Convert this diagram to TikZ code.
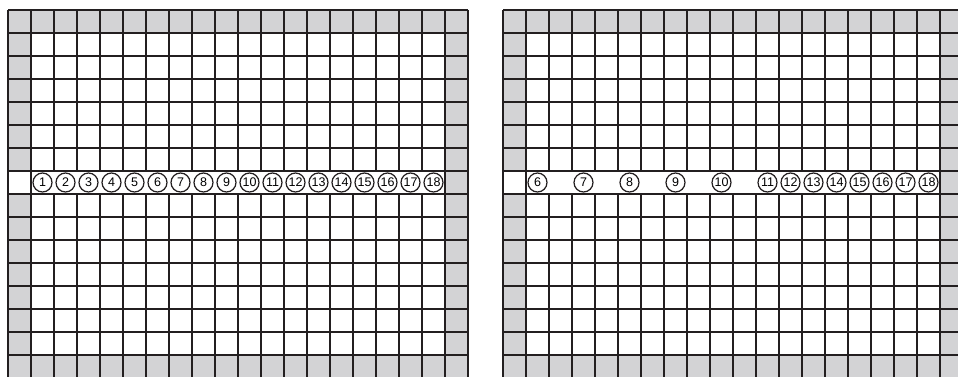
\documentclass[tikz,border=0pt]{standalone}
\usepackage{fontspec}
\setmainfont{Liberation Sans}
\definecolor{cellgray}{RGB}{211,211,213}
\definecolor{gridline}{RGB}{35,31,32}
\begin{document}
\begin{tikzpicture}[x=1pt,y=-1pt,
  gridln/.style={draw=gridline,line width=1.7pt},
  num/.style={circle,draw=gridline,line width=1.2pt,minimum size=19pt,inner sep=0pt,
    font=\fontsize{12.5}{13}\selectfont}]
\useasboundingbox (0,0) rectangle (958,376);
\clip (0,0) rectangle (958,376);
\foreach \ox/\g in {8/L,503/R}{
  \begin{scope}[shift={(\ox,10)},x=23pt,y=-23pt]
    \fill[cellgray] (0,0) rectangle (20,1);
    \fill[cellgray] (0,15) rectangle (20,16);
    \fill[cellgray] (0,1) rectangle (1,7);
    \fill[cellgray] (0,8) rectangle (1,15);
    \fill[cellgray] (19,1) rectangle (20,15);
    \foreach \r in {0,...,16} \draw[gridln] (0,\r) -- (20,\r);
    \foreach \c in {0,1,19,20} \draw[gridln] (\c,0) -- (\c,16);
    \foreach \c in {2,...,18} {
      \draw[gridln] (\c,0) -- (\c,7);
      \draw[gridln] (\c,8) -- (\c,16);
    }
  \end{scope}
}
\begin{scope}[shift={(8,10)},x=23pt,y=-23pt]
  \foreach \n in {1,...,18} \node[num] (L\n) at (\n+0.5,7.5) {\n};
\end{scope}
\begin{scope}[shift={(503,10)},x=23pt,y=-23pt]
  \foreach \n/\c in {6/1,7/3,8/5,9/7,10/9,11/11,12/12,13/13,14/14,15/15,16/16,17/17,18/18}
    \node[num] (R\n) at (\c+0.5,7.5) {\n};
\end{scope}
\end{tikzpicture}
\end{document}
